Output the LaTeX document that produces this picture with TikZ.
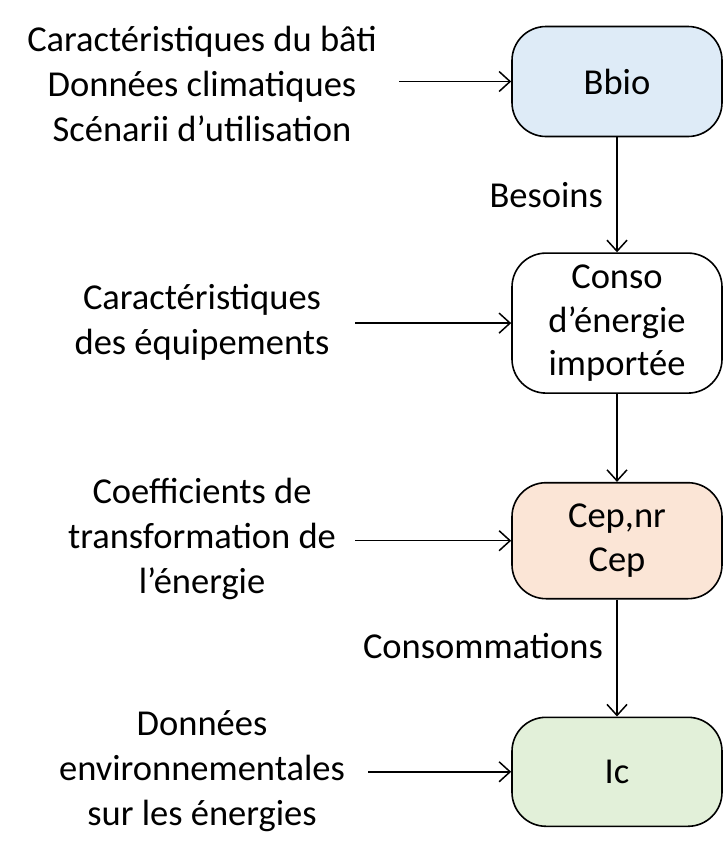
\documentclass[tikz,border=0pt]{standalone}
\usepackage{fontspec}
\setmainfont{Carlito}
\usetikzlibrary{positioning,arrows.meta}

\definecolor{bleubbio}{HTML}{DEEBF7}
\definecolor{saumoncep}{HTML}{FBE5D6}
\definecolor{vertic}{HTML}{E2F0D9}

\begin{document}
\begin{tikzpicture}[x=1pt,y=-1pt,
  etape/.style={draw,line width=1.6pt,rounded corners=34pt,minimum width=210pt,align=center,
    font=\fontsize{36.5}{43.5}\selectfont},
  entree/.style={align=center,font=\fontsize{36.5}{44.8}\selectfont},
  fleche/.style={line width=1.5pt,-{Straight Barb[length=11pt,width=20pt,line width=1.5pt]}}]
\useasboundingbox (0,0) rectangle (724,860);

 \node[etape,fill=bleubbio,minimum height=110pt] at (617,81.5) (bbio) {Bbio};
 \node[etape,minimum height=140pt,below=115pt of bbio] (conso) {Conso\\d’énergie\\importée};
 \node[etape,fill=saumoncep,minimum height=116pt,below=88pt of conso] (cep) {Cep,nr\\Cep};
 \node[etape,fill=vertic,minimum height=109pt,below=117pt of cep] (ic) {Ic};

%entrees a gauche
 \node[entree] at (202,84) (bati) {Caractéristiques du bâti\\Données climatiques\\Scénarii d’utilisation};
 \node[entree] at (202,322) (equip) {Caractéristiques\\des équipements};
 \node[entree] at (202,539) (coef) {Coefficients de\\transformation de\\l’énergie};
 \node[entree] at (202,771) (envir) {Données\\environnementales\\sur les énergies};

 \coordinate (b0) at (399,0);
 \coordinate (e0) at (355,0);
 \coordinate (d0) at (368,0);
 \draw[fleche] (b0 |- bbio) -- (bbio.west);
 \draw[fleche] (e0 |- conso) -- (conso.west);
 \draw[fleche] (e0 |- cep) -- (cep.west);
 \draw[fleche] (d0 |- ic) -- (ic.west);

 \draw[fleche] (bbio) -- (conso) node[midway,left,entree,xshift=-10pt] (besoins) {Besoins};
 \draw[fleche] (conso) -- (cep);
 \draw[fleche] (cep) -- (ic) node[pos=0.4,left,entree,xshift=-10pt] (consos) {Consommations};

\end{tikzpicture}
\end{document}
